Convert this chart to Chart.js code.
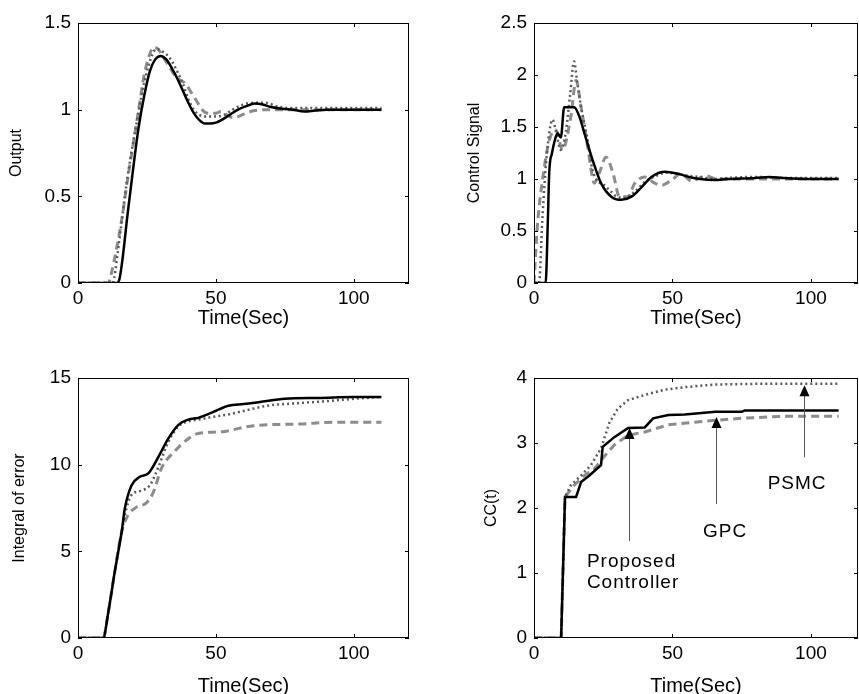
<!DOCTYPE html>
<html>
<head>
<meta charset="utf-8">
<script src="https://cdn.jsdelivr.net/npm/chart.js@4"></script>
<style>
  html, body { margin: 0; padding: 0; background: #fff; overflow: hidden; width: 859px; height: 694px; }
  canvas { position: absolute; }
</style>
</head>
<body>
<canvas id="cOut" width="430" height="330" style="left:0;top:0;width:430px;height:330px"></canvas>
<canvas id="cCtl" width="429" height="330" style="left:430px;top:0;width:429px;height:330px"></canvas>
<canvas id="cIe" width="430" height="380" style="left:0;top:330px;width:430px;height:380px"></canvas>
<canvas id="cCc" width="429" height="380" style="left:430px;top:330px;width:429px;height:380px"></canvas>
<script>
// --- Output ---
const outT_pc = [0, 14, 15, 16, 18, 20, 22, 24, 26, 28, 30, 32, 34, 36, 38, 40, 42, 44, 46, 48, 50, 52, 55, 58, 61, 64, 67, 70, 74, 78, 82, 86, 90, 100, 110];
const outY_pc = [0, 0, 0.02, 0.12, 0.4, 0.66, 0.9, 1.08, 1.22, 1.29, 1.31, 1.29, 1.24, 1.18, 1.11, 1.04, 0.98, 0.94, 0.92, 0.92, 0.925, 0.94, 0.97, 1.0, 1.02, 1.035, 1.03, 1.015, 1.005, 1.0, 0.99, 0.995, 1.0, 1.0, 1.0];
const outT_gpc = [0, 11, 12, 14, 16, 18, 20, 22, 24, 26, 27.5, 29, 31, 33, 35, 37, 39, 41, 43, 45, 47, 50, 52, 54, 56, 58, 61, 64, 70, 80, 90, 100, 110];
const outY_gpc = [0, 0, 0.05, 0.2, 0.38, 0.6, 0.8, 1.0, 1.2, 1.32, 1.36, 1.35, 1.3, 1.25, 1.2, 1.17, 1.15, 1.1, 1.05, 1.0, 0.98, 0.98, 0.99, 0.97, 0.955, 0.96, 0.98, 0.995, 1.0, 1.0, 1.0, 1.0, 1.0];
const outT_psmc = [0, 12.5, 13, 15, 17, 19, 21, 23, 25, 27, 28.5, 30, 32, 34, 36, 38, 40, 42, 44, 46, 50, 53, 56, 60, 64, 68, 72, 76, 80, 90, 100, 110];
const outY_psmc = [0, 0, 0.02, 0.25, 0.5, 0.72, 0.9, 1.08, 1.22, 1.32, 1.35, 1.34, 1.32, 1.28, 1.22, 1.15, 1.06, 1.0, 0.97, 0.96, 0.96, 0.97, 1.0, 1.03, 1.04, 1.04, 1.02, 1.01, 1.01, 1.01, 1.01, 1.01];

// --- Control Signal ---
const ctlT_pc = [0, 4.2, 5, 5.5, 6.5, 7.5, 8.5, 9.7, 10.9, 14.5, 16.4, 18.2, 21.2, 24.2, 27.9, 31.5, 35.2, 38.8, 42.4, 47.3, 52, 56, 60, 65, 70, 80, 85, 90, 100, 110];
const ctlY_pc = [0, 0, 0.6, 1.06, 1.25, 1.37, 1.44, 1.40, 1.69, 1.69, 1.6, 1.44, 1.18, 0.96, 0.83, 0.80, 0.83, 0.92, 1.02, 1.07, 1.05, 1.02, 1.0, 0.99, 1.0, 1.01, 1.02, 1.01, 1.0, 1.0];
const ctlT_gpc = [0, 1.2, 3.6, 5.5, 7.9, 10.3, 13.3, 15.2, 17, 19.4, 21.8, 23.6, 26, 28.5, 30.9, 33.9, 36.4, 40, 43.6, 46, 49.7, 53, 57, 62, 66, 70, 80, 90, 100, 110];
const ctlY_gpc = [0, 0.54, 1.09, 1.37, 1.47, 1.28, 1.6, 1.95, 1.69, 1.31, 0.96, 1.06, 1.21, 1.06, 0.83, 0.83, 0.96, 1.02, 0.96, 0.94, 0.99, 1.05, 0.98, 1.03, 1.0, 1.0, 1.0, 1.0, 1.0, 1.0];
const ctlT_psmc = [0, 1.8, 3, 4.5, 6.7, 8, 9.7, 11.5, 13, 14.5, 15.5, 17, 19.4, 21, 23, 25, 27, 30, 33, 36, 40, 44, 48, 52, 56, 60, 65, 70, 80, 90, 100, 110];
const ctlY_psmc = [0, 0, 0.6, 1.2, 1.57, 1.45, 1.28, 1.45, 1.8, 2.13, 1.95, 1.69, 1.37, 1.1, 0.98, 0.95, 0.9, 0.83, 0.82, 0.87, 0.97, 1.03, 1.06, 1.05, 1.03, 1.02, 1.0, 1.01, 1.02, 1.01, 1.01, 1.01];

// --- Integral of error ---
const ieT_pc = [0, 9.1, 11, 13.3, 15.8, 17, 19.4, 22.4, 25.5, 29, 32.7, 36.4, 40, 43.6, 48.5, 54.5, 60, 65.5, 75, 88, 100, 110];
const ieY_pc = [0, 0, 1.5, 3.8, 6.1, 7.5, 8.8, 9.3, 9.5, 10.4, 11.5, 12.3, 12.6, 12.7, 13.0, 13.4, 13.5, 13.6, 13.8, 13.85, 13.9, 13.9];
const ieT_gpc = [0, 9.1, 11, 13.3, 15.8, 18.2, 21.2, 24.8, 27.3, 30.3, 35.2, 40, 43.6, 52, 63.7, 80.7, 92.8, 110];
const ieY_gpc = [0, 0, 1.5, 3.8, 6.1, 7.1, 7.55, 7.8, 8.4, 9.8, 10.8, 11.5, 11.8, 11.9, 12.25, 12.35, 12.45, 12.45];
const ieT_psmc = [0, 9.1, 11, 13.3, 15.8, 17.6, 19.4, 23, 26, 29, 32.7, 36.4, 40, 43.6, 48.5, 54.5, 60, 68.6, 80, 92.8, 100, 110];
const ieY_psmc = [0, 0, 1.5, 3.8, 6.1, 7.5, 8.25, 8.5, 8.8, 9.8, 11.3, 12.2, 12.5, 12.6, 12.75, 12.9, 13.1, 13.4, 13.55, 13.7, 13.8, 13.9];

// --- CC(t) ---
const ccT_pc = [0, 9.8, 11.2, 15.2, 17, 20, 24.2, 24.8, 29, 34, 40, 43, 48.5, 54.5, 65.5, 75, 76, 110];
const ccY_pc = [0, 0, 2.17, 2.17, 2.4, 2.5, 2.66, 2.94, 3.09, 3.23, 3.24, 3.38, 3.43, 3.44, 3.48, 3.48, 3.5, 3.5];
const ccT_gpc = [0, 9.8, 11.2, 14.5, 18.2, 21.8, 25.5, 29, 34, 40, 48.5, 58, 65.5, 75, 90, 110];
const ccY_gpc = [0, 0, 2.17, 2.35, 2.5, 2.6, 2.8, 2.97, 3.12, 3.17, 3.28, 3.32, 3.35, 3.38, 3.41, 3.41];
const ccT_psmc = [0, 9.8, 11.2, 13.3, 17, 20.6, 24.2, 27.3, 30.3, 34, 40, 47.3, 54.5, 65.5, 80, 110];
const ccY_psmc = [0, 0, 2.17, 2.35, 2.5, 2.66, 2.92, 3.32, 3.53, 3.66, 3.74, 3.82, 3.86, 3.9, 3.91, 3.91];

// labels pointing at the CC(t) curves (align: where the text sits relative to tx)
const ccNotes = [
  { text: ["Proposed", "Controller"], align: "left", tx: 19.1, ty: [1.17, 0.85], ax: 34.3, from: 1.49, to: 3.23 },
  { text: ["GPC"], align: "center", tx: 69, ty: [1.63], ax: 65.7, from: 2.06, to: 3.4 },
  { text: ["PSMC"], align: "center", tx: 95, ty: [2.38], ax: 97.5, from: 2.78, to: 3.89 },
];

Chart.defaults.font.family = "'Liberation Sans', Arial, sans-serif";
Chart.defaults.color = "#000";

const pts = (T, Y) => T.map((t, i) => ({ x: t, y: Y[i] }));

// matlab style box with inward ticks
const boxPlugin = {
  id: "box",
  afterDraw(chart) {
    const { ctx, chartArea: a, scales: { x, y } } = chart;
    ctx.save();
    ctx.strokeStyle = "#000";
    ctx.lineWidth = 1;
    ctx.strokeRect(a.left + 0.5, a.top + 0.5, a.right - a.left - 1, a.bottom - a.top - 1);
    ctx.beginPath();
    x.ticks.forEach(t => {
      const px = Math.round(x.getPixelForValue(t.value)) + 0.5;
      ctx.moveTo(px, a.bottom); ctx.lineTo(px, a.bottom - 4);
      ctx.moveTo(px, a.top); ctx.lineTo(px, a.top + 4);
    });
    y.ticks.forEach(t => {
      const py = Math.round(y.getPixelForValue(t.value)) + 0.5;
      ctx.moveTo(a.left, py); ctx.lineTo(a.left + 4, py);
      ctx.moveTo(a.right, py); ctx.lineTo(a.right - 4, py);
    });
    ctx.stroke();
    ctx.restore();
  }
};

const notePlugin = {
  id: "notes",
  afterDraw(chart) {
    const { ctx, scales: { x, y } } = chart;
    ctx.save();
    ccNotes.forEach(n => {
      const ax = Math.round(x.getPixelForValue(n.ax)) + 0.5;
      const yTip = y.getPixelForValue(n.to);
      const yFrom = y.getPixelForValue(n.from);
      ctx.strokeStyle = "#555";
      ctx.lineWidth = 1;
      ctx.beginPath();
      ctx.moveTo(ax, yFrom);
      ctx.lineTo(ax, yTip + 10);
      ctx.stroke();
      ctx.fillStyle = "#000";
      ctx.beginPath();
      ctx.moveTo(ax, yTip);
      ctx.lineTo(ax - 5, yTip + 11);
      ctx.lineTo(ax + 5, yTip + 11);
      ctx.closePath();
      ctx.fill();
      ctx.font = "19px 'Liberation Sans', Arial, sans-serif";
      ctx.letterSpacing = "1px";
      ctx.textAlign = n.align;
      ctx.textBaseline = "middle";
      n.text.forEach((s, i) => ctx.fillText(s, x.getPixelForValue(n.tx), y.getPixelForValue(n.ty[i])));
    });
    ctx.restore();
  }
};

function series(pc, gpc, psmc, smooth) {
  const common = { pointRadius: 0, fill: false, tension: 0 };
  if (smooth) common.cubicInterpolationMode = "monotone";
  return [
    { ...common, label: "Proposed Controller", data: pc, borderColor: "#000", borderWidth: 2.5 },
    { ...common, label: "PSMC", data: psmc, borderColor: "#5a5a5a", borderWidth: 2.5, borderDash: [2, 3] },
    { ...common, label: "GPC", data: gpc, borderColor: "#8c8c8c", borderWidth: 3, borderDash: [8, 5] },
  ];
}

function makeChart(id, datasets, o) {
  return new Chart(document.getElementById(id), {
    type: "line",
    data: { datasets },
    plugins: o.extra ? [boxPlugin, o.extra] : [boxPlugin],
    options: {
      responsive: false,
      animation: false,
      devicePixelRatio: 1,
      layout: { padding: { left: 0, top: o.top, right: o.right, bottom: 0 } },
      plugins: { legend: { display: false }, tooltip: { enabled: false } },
      scales: {
        x: {
          type: "linear", min: 0, max: o.xmax,
          grid: { display: false, drawTicks: false },
          border: { display: false },
          ticks: { stepSize: 50, includeBounds: false, maxRotation: 0, padding: 4, font: { size: 19 } },
          title: { display: true, text: "Time(Sec)", font: { size: 20 }, padding: { top: 0, bottom: o.xTitlePad } },
          afterFit: s => { s.height = o.xh; }
        },
        y: {
          min: 0, max: o.ymax,
          grid: { display: false, drawTicks: false },
          border: { display: false },
          ticks: { stepSize: o.ystep, padding: 7, font: { size: 19 }, callback: v => String(v) },
          title: { display: true, text: o.ytitle, font: { size: 16 }, padding: { top: o.yTitlePad, bottom: 0 } },
          afterFit: s => { s.width = o.yw; }
        }
      }
    }
  });
}

makeChart("cOut", series(pts(outT_pc, outY_pc), pts(outT_gpc, outY_gpc), pts(outT_psmc, outY_psmc), true),
  { top: 23, right: 21, xmax: 120, xh: 47, yw: 78, ymax: 1.5, ystep: 0.5, ytitle: "Output", yTitlePad: 7, xTitlePad: 0 });

makeChart("cCtl", series(pts(ctlT_pc, ctlY_pc), pts(ctlT_gpc, ctlY_gpc), pts(ctlT_psmc, ctlY_psmc), true),
  { top: 23, right: 1, xmax: 117, xh: 47, yw: 104, ymax: 2.5, ystep: 0.5, ytitle: "Control Signal", yTitlePad: 35, xTitlePad: 0 });

makeChart("cIe", series(pts(ieT_pc, ieY_pc), pts(ieT_gpc, ieY_gpc), pts(ieT_psmc, ieY_psmc), true),
  { top: 48, right: 21, xmax: 120, xh: 72, yw: 78, ymax: 15, ystep: 5, ytitle: "Integral of error", yTitlePad: 10, xTitlePad: 12 });

makeChart("cCc", series(pts(ccT_pc, ccY_pc), pts(ccT_gpc, ccY_gpc), pts(ccT_psmc, ccY_psmc), false),
  { top: 48, right: 1, xmax: 117, xh: 72, yw: 104, ymax: 4, ystep: 1, ytitle: "CC(t)", yTitlePad: 52, xTitlePad: 12, extra: notePlugin });
</script>
</body>
</html>
